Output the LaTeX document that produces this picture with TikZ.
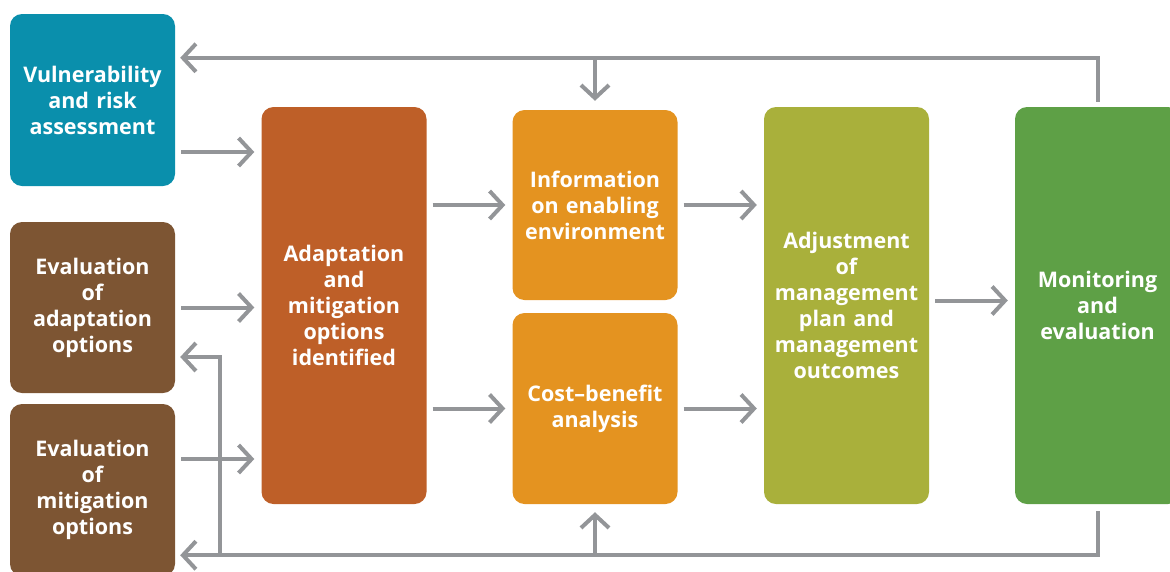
\documentclass[tikz,border=0pt]{standalone}
\usepackage{fontspec}
\setmainfont{Open Sans}
\usetikzlibrary{arrows.meta}
\definecolor{VulnTeal}{HTML}{0A8FAC}
\definecolor{EvalBrown}{HTML}{7D5533}
\definecolor{AdaptRust}{HTML}{BE5F28}
\definecolor{InfoOrange}{HTML}{E49320}
\definecolor{AdjOlive}{HTML}{A9B03B}
\definecolor{MonGreen}{HTML}{5EA046}
\definecolor{FlowGray}{HTML}{939598}
\begin{document}
\begin{tikzpicture}[x=1pt, y=-1pt,
  box/.style={rounded corners=12pt, minimum width=165pt, text width=160pt, inner sep=0pt,
    align=center, text=white, font=\bfseries\fontsize{21.5}{26}\selectfont},
  flow/.style={draw=FlowGray, line width=4pt, -{Straight Barb[length=13pt,width=28pt]}},
  gap/.style={shorten <=6pt, shorten >=7pt}]
\useasboundingbox (0,0) rectangle (1170,571);
%
\node[box, fill=VulnTeal, minimum height=172pt] (vuln) at (92.5,100) {Vulnerability\\and risk\\assessment};
\node[box, fill=EvalBrown, minimum height=171pt] (evada) at (92.5,307.5) {Evaluation\\of\\adaptation\\options};
\node[box, fill=EvalBrown, minimum height=172pt] (evmit) at (92.5,490) {Evaluation\\of\\mitigation\\options};
%
\node[box, fill=AdaptRust, minimum height=397pt] (adapt) at (344,305.5) {Adaptation\\and\\mitigation\\options\\identified};
\node[box, fill=InfoOrange, minimum height=190pt] (info) at (595,205) {Information\\on enabling\\environment};
\node[box, fill=InfoOrange, minimum height=191pt] (cost) at (595,408.5) {Cost--benefit\\analysis};
\node[box, fill=AdjOlive, minimum height=397pt] (adjust) at (846.5,305.5) {Adjustment\\of\\management\\plan and\\management\\outcomes};
\node[box, fill=MonGreen, minimum height=397pt] (monit) at (1097.5,305.5) {Monitoring\\and\\evaluation};
%
\coordinate (a1) at ([yshift=-52pt]vuln.east);
\coordinate (a3) at ([yshift=31pt]evmit.east);
\coordinate (a4) at ([yshift=5pt]adjust.east);
\draw[flow, gap] (a1) -- (a1 -| adapt.west);
\draw[flow, gap] (evada.east) -- (evada.east -| adapt.west);
\draw[flow, gap] (a3) -- (a3 -| adapt.west);
\draw[flow, gap] (info.west -| adapt.east) -- (info.west);
\draw[flow, gap] (cost.west -| adapt.east) -- (cost.west);
\draw[flow, gap] (info.east) -- (info.east -| adjust.west);
\draw[flow, gap] (cost.east) -- (cost.east -| adjust.west);
\draw[flow, gap] (a4) -- (a4 -| monit.west);
%
\coordinate (topR) at ([yshift=49pt]monit.north);
\draw[flow, shorten >=5pt] ([yshift=5pt]monit.north) -- (topR) -- (topR -| vuln.east);
\draw[flow, shorten >=9pt] (topR -| info.north) -- (info.north);
%
\coordinate (botR) at ([yshift=-51pt]monit.south);
\coordinate (evm) at (botR -| evmit.east);
\coordinate (botL) at ([xshift=45pt]evm);
\coordinate (ea) at ([yshift=-49.5pt]evada.east);
\draw[flow, shorten >=5pt] ([yshift=-7pt]monit.south) -- (botR) -- (evm);
\draw[flow, shorten >=8pt] (botR -| cost.south) -- (cost.south);
\draw[flow, shorten >=5pt] (botL) |- (ea);
\end{tikzpicture}
\end{document}
